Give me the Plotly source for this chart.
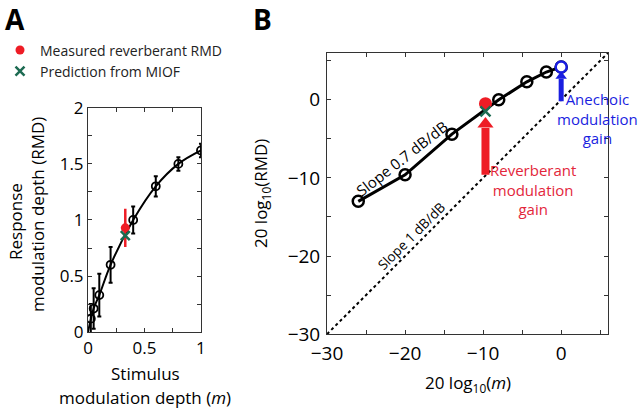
import plotly.graph_objects as go

# ---------------- Panel A data ----------------
a_m = [0.025, 0.05, 0.1, 0.2, 0.4, 0.6, 0.8, 1.0]
a_rmd = [0.12, 0.21, 0.33, 0.60, 1.00, 1.30, 1.50, 1.62]
a_err = [0.13, 0.18, 0.19, 0.16, 0.12, 0.09, 0.06, 0.06]
a_fit_m = [0.0, 0.05, 0.1, 0.2, 0.4, 0.6, 0.8, 1.0]
a_fit_rmd = [0.0, 0.21, 0.33, 0.60, 1.00, 1.30, 1.50, 1.62]
a_meas_m = [0.33]
a_meas_rmd = [0.93]
a_meas_err = [0.17]
a_pred_m = [0.33]
a_pred_rmd = [0.86]

# ---------------- Panel B data ----------------
b_m_db = [-26.0, -20.0, -14.0, -8.0, -4.4, -1.9, 0.0]
b_rmd_db = [-13.0, -9.6, -4.4, 0.0, 2.3, 3.55, 4.2]
b_unity = [-30, 6]
b_meas = (-9.7, -0.5)
b_pred = (-9.7, -1.5)
rev_arrow_x = [-9.7, -9.7]
rev_arrow_y = [-9.6, -3.6]
rev_head = (-9.7, -3.1)
ane_arrow_x = [0.0, 0.0]
ane_arrow_y = [-0.2, 2.7]
ane_head = (0.0, 3.0)

a_ticks = [0, 0.25, 0.5, 0.75, 1]
a_ticktext = ["0", "", "0.5", "", "1"]
a_yticks = [0, 0.25, 0.5, 0.75, 1, 1.25, 1.5, 1.75, 2]
a_yticktext = ["0", "", "0.5", "", "1", "", "1.5", "", "2"]
b_ticks = [-30, -25, -20, -15, -10, -5, 0, 5]
b_ticktext = ["\u221230", "", "\u221220", "", "\u221210", "", "0", ""]

RED = "#ee1c25"
GREEN = "#1d6b52"
BLUE = "#1a1ee0"
FONT = "Open Sans"

fig = go.Figure()

# Panel A
fig.add_trace(go.Scatter(x=a_fit_m, y=a_fit_rmd, mode="lines", line=dict(color="black", width=2, shape="spline"),
                         xaxis="x", yaxis="y", showlegend=False))
fig.add_trace(go.Scatter(x=a_m, y=a_rmd, mode="markers",
                         error_y=dict(type="data", array=a_err, color="black", thickness=2, width=2),
                         marker=dict(symbol="circle-open", size=8, color="black", line=dict(width=1.8)),
                         xaxis="x", yaxis="y", showlegend=False))
fig.add_trace(go.Scatter(x=a_meas_m, y=a_meas_rmd, mode="markers",
                         error_y=dict(type="data", array=a_meas_err, color=RED, thickness=2.5, width=0),
                         marker=dict(symbol="circle", size=9, color=RED),
                         xaxis="x", yaxis="y", name="Measured reverberant RMD"))
fig.add_trace(go.Scatter(x=a_pred_m, y=a_pred_rmd, mode="markers",
                         marker=dict(symbol="x-thin", size=9, color=GREEN, line=dict(width=2.5, color=GREEN)),
                         xaxis="x", yaxis="y", name="Prediction from MIOF"))

# Panel B
fig.add_trace(go.Scatter(x=b_unity, y=b_unity, mode="lines", line=dict(color="black", width=2, dash="dot"),
                         xaxis="x2", yaxis="y2", showlegend=False))
fig.add_trace(go.Scatter(x=b_m_db, y=b_rmd_db, mode="lines+markers", line=dict(color="black", width=3),
                         marker=dict(symbol="circle-open", size=11, color="black", line=dict(width=2.5)),
                         xaxis="x2", yaxis="y2", showlegend=False))
fig.add_trace(go.Scatter(x=[b_m_db[-1]], y=[b_rmd_db[-1]], mode="markers",
                         marker=dict(symbol="circle", size=11, color="white", line=dict(width=2.5, color=BLUE)),
                         xaxis="x2", yaxis="y2", showlegend=False))
fig.add_trace(go.Scatter(x=[b_meas[0]], y=[b_meas[1]], mode="markers",
                         marker=dict(symbol="circle", size=13, color=RED),
                         xaxis="x2", yaxis="y2", showlegend=False))
fig.add_trace(go.Scatter(x=[b_pred[0]], y=[b_pred[1]], mode="markers",
                         marker=dict(symbol="x-thin", size=10, color=GREEN, line=dict(width=2.5, color=GREEN)),
                         xaxis="x2", yaxis="y2", showlegend=False))
# arrows
fig.add_trace(go.Scatter(x=rev_arrow_x, y=rev_arrow_y, mode="lines", line=dict(color=RED, width=8),
                         xaxis="x2", yaxis="y2", showlegend=False))
fig.add_trace(go.Scatter(x=[rev_head[0]], y=[rev_head[1]], mode="markers",
                         marker=dict(symbol="triangle-up", size=14, color=RED),
                         xaxis="x2", yaxis="y2", showlegend=False))
fig.add_trace(go.Scatter(x=ane_arrow_x, y=ane_arrow_y, mode="lines", line=dict(color=BLUE, width=5),
                         xaxis="x2", yaxis="y2", showlegend=False))
fig.add_trace(go.Scatter(x=[ane_head[0]], y=[ane_head[1]], mode="markers",
                         marker=dict(symbol="triangle-up", size=10, color=BLUE),
                         xaxis="x2", yaxis="y2", showlegend=False))

axis_common = dict(showgrid=False, zeroline=False, showline=True, linecolor="#333", linewidth=1,
                   mirror="ticks", ticks="inside", ticklen=4, tickcolor="#333", automargin=False,
                   tickfont=dict(family=FONT, size=17, color="black"))
axis_b = {**axis_common, "tickfont": dict(family=FONT, size=19, color="black")}

fig.update_layout(
    width=640, height=410, margin=dict(l=0, r=0, t=0, b=0, autoexpand=False),
    paper_bgcolor="white", plot_bgcolor="white",
    font=dict(family=FONT, color="black"),
    xaxis=dict(domain=[0.1375, 0.314], range=[0, 1], tickmode="array", tickvals=a_ticks, ticktext=a_ticktext,
               anchor="y", **axis_common),
    yaxis=dict(domain=[0.19, 0.737], range=[0, 2], tickmode="array", tickvals=a_yticks, ticktext=a_yticktext,
               anchor="x", **axis_common),
    xaxis2=dict(domain=[0.511, 0.95], range=[-30, 6], tickmode="array", tickvals=b_ticks, ticktext=b_ticktext,
                anchor="y2", ticklabelstandoff=2, **axis_b),
    yaxis2=dict(domain=[0.185, 0.871], range=[-30, 6], tickmode="array", tickvals=b_ticks, ticktext=b_ticktext,
                anchor="x2", ticklabelstandoff=2, **axis_b),
    legend=dict(x=-0.0, y=0.916, xanchor="left", yanchor="top", bgcolor="rgba(0,0,0,0)",
                font=dict(family=FONT, size=14, color="#222"), tracegroupgap=0, itemwidth=30),
)

W, H = 640.0, 410.0

def pa(text, x, y, size=16, color="black", angle=0, xanchor="center", yanchor="middle"):
    fig.add_annotation(text=text, x=x / W, y=1 - y / H, xref="paper", yref="paper", showarrow=False,
                       textangle=angle, font=dict(family=FONT, size=size, color=color),
                       xanchor=xanchor, yanchor=yanchor)

pa("<b>A</b>", 15, 19, size=28)
pa("<b>B</b>", 262, 19, size=28)
pa("Response", 15, 222, size=17, angle=-90)
pa("modulation depth (RMD)", 37, 215, size=17, angle=-90)
pa("Stimulus", 145, 373, size=17)
pa("modulation depth (<i>m</i>)", 145, 397, size=17)
pa("20 log<sub>10</sub>(RMD)", 261, 194, size=17, angle=-90)
pa("20 log<sub>10</sub>(<i>m</i>)", 468, 383, size=17)

def da(text, x, y, size=14, color="black", angle=0):
    fig.add_annotation(text=text, x=x, y=y, xref="x2", yref="y2", showarrow=False, textangle=angle,
                       font=dict(family=FONT, size=size, color=color))

da("Slope 0.7 dB/dB", -20.4, -7.4, size=15, angle=-38)
da("Slope 1 dB/dB", -19.2, -17.4, size=13.5, angle=-45)
da("Reverberant<br>modulation<br>gain", -3.6, -11.5, size=15, color="#e3263b")
da("Anechoic<br>modulation<br>gain", 4.7, -2.4, size=15, color=BLUE)

fig.write_html("out.html", config={"displayModeBar": False},
               post_script="document.body.style.margin='0';document.body.style.overflow='hidden';")
